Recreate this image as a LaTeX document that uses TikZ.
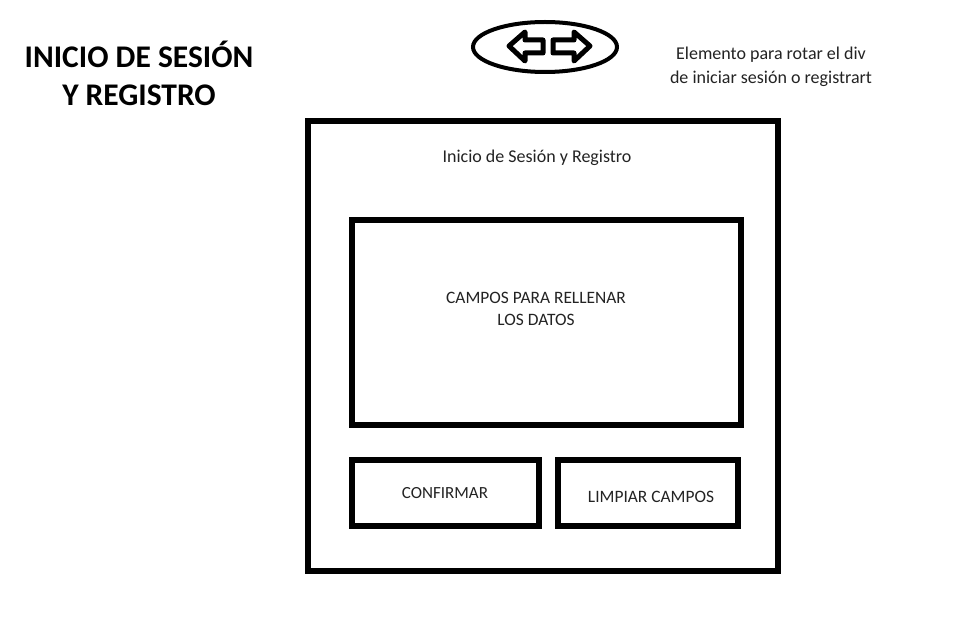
\documentclass[tikz,border=0pt]{standalone}
\usepackage{fontspec}
\setmainfont{Carlito}
\begin{document}
\begin{tikzpicture}[x=1pt,y=1pt]
\definecolor{fillColor}{RGB}{255,255,255}
\definecolor{drawColor}{RGB}{0,0,0}
\definecolor{textColor}{RGB}{35,35,35}
\begin{scope}
\path[use as bounding box,fill=fillColor] (  0.00,  0.00) rectangle (964.00,630.00);
\end{scope}
\begin{scope}
\node[text=drawColor,align=center,inner sep=0pt, outer sep=0pt,font=\bfseries\fontsize{31.5}{38}\selectfont] (titulo) at (139.00,557.00) {INICIO DE SESIÓN\\Y REGISTRO};
\end{scope}
\begin{scope}

\path[draw=drawColor,line width= 4.0pt] (545.00,583.00) ellipse (72.00 and 25.00);
\end{scope}
\begin{scope}

\path[draw=drawColor,line width= 5.0pt,line join=round] (509.00,584.00) -- (525.00,598.00) -- (525.00,590.00) -- (543.00,590.00) -- (543.00,577.00) -- (525.00,577.00) -- (525.00,569.00) -- cycle;
\end{scope}
\begin{scope}

\path[draw=drawColor,line width= 5.0pt,line join=round] (590.00,584.00) -- (574.00,598.00) -- (574.00,590.00) -- (553.00,590.00) -- (553.00,577.00) -- (574.00,577.00) -- (574.00,569.00) -- cycle;
\end{scope}
\begin{scope}
\node[text=textColor,align=center,inner sep=0pt, outer sep=0pt,font=\fontsize{18}{24}\selectfont] (nota) at (771.00,563.00) {Elemento para rotar el div\\de iniciar sesión o registrart};
\end{scope}
\begin{scope}

\path[draw=drawColor,line width= 6.0pt] (308.00,509.00) rectangle (778.00, 59.00);
\end{scope}
\begin{scope}
\node[text=textColor,inner sep=0pt, outer sep=0pt,font=\fontsize{18}{22}\selectfont] (cabecera) at (537.00,472.00) {Inicio de Sesión y Registro};
\end{scope}
\begin{scope}

\path[draw=drawColor,line width= 6.0pt] (352.00,410.00) rectangle (741.00,205.00);
\end{scope}
\begin{scope}
\node[text=textColor,align=center,inner sep=0pt, outer sep=0pt,font=\fontsize{17.4}{22}\selectfont] (campos) at (536.00,321.00) {CAMPOS PARA RELLENAR\\LOS DATOS};
\end{scope}
\begin{scope}

\path[draw=drawColor,line width= 6.0pt] (352.00,170.00) rectangle (539.00,104.00);
\end{scope}
\begin{scope}
\node[text=textColor,inner sep=0pt, outer sep=0pt,font=\fontsize{17}{21}\selectfont] (confirmar) at (445.00,137.00) {CONFIRMAR};
\end{scope}
\begin{scope}

\path[draw=drawColor,line width= 6.0pt] (558.00,170.00) rectangle (738.00,104.00);
\end{scope}
\begin{scope}
\node[text=textColor,inner sep=0pt, outer sep=0pt,font=\fontsize{17.4}{21}\selectfont] (limpiar) at (651.00,133.00) {LIMPIAR CAMPOS};
\end{scope}
\end{tikzpicture}
\end{document}
